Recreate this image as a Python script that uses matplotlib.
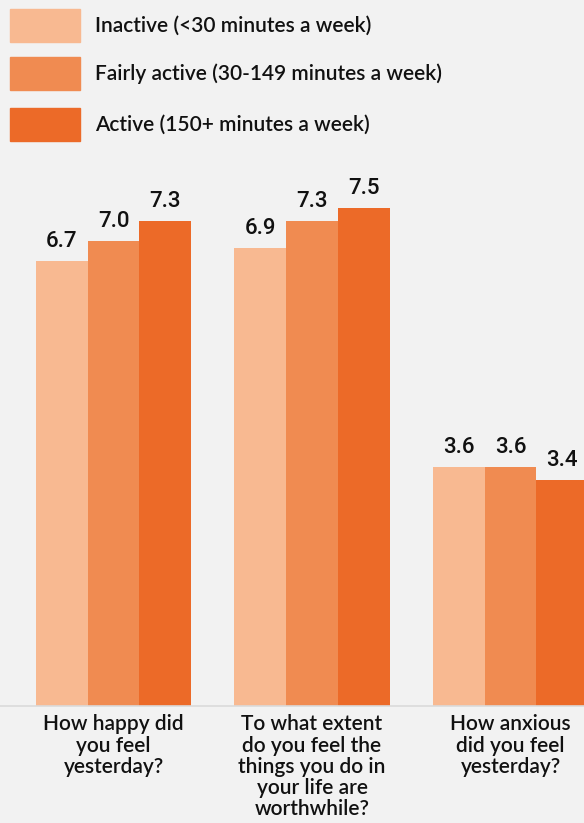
import matplotlib.pyplot as plt
from matplotlib.patches import Rectangle
import numpy as np

# data
questions = ['How happy did\nyou feel\nyesterday?',
             'To what extent\ndo you feel the\nthings you do in\nyour life are\nworthwhile?',
             'How anxious\ndid you feel\nyesterday?']
groups = ['Inactive (<30 minutes a week)',
          'Fairly active (30-149 minutes a week)',
          'Active (150+ minutes a week)']
inactive = [6.7, 6.9, 3.6]
fairly_active = [7.0, 7.3, 3.6]
active = [7.3, 7.5, 3.4]

colors = ['#f8b991', '#f08b51', '#ec6a28']
bg = '#f2f2f2'
W, H = 584, 823

fig = plt.figure(figsize=(W / 100, H / 100), dpi=100, facecolor=bg)
base_px = 706
top_px = 160
ax = fig.add_axes([0, (H - base_px) / H, 1, (base_px - top_px) / H])
ax.set_facecolor(bg)

step = 198.5  # pixels between groups
bw = 51.7 / step
x = np.arange(len(questions))
series = [inactive, fairly_active, active]
for i, (vals, c) in enumerate(zip(series, colors)):
    pos = x + (i - 1) * bw
    bars = ax.bar(pos, vals, width=bw, color=c, edgecolor='none')
    for b, v in zip(bars, vals):
        ax.annotate(f'{v:.1f}', (b.get_x() + b.get_width() / 2, v),
                    xytext=(0, 10), textcoords='offset points',
                    ha='center', va='baseline', fontsize=16,
                    family='Roboto', weight='medium', color='#111111')

ax.set_xlim(-113.5 / step, (W - 113.5) / step)
ax.set_ylim(0, (base_px - top_px) / 66.4)
for s in ['top', 'right', 'left']:
    ax.spines[s].set_visible(False)
ax.spines['bottom'].set_color('#dadada')
ax.spines['bottom'].set_linewidth(1.2)
ax.set_yticks([])
ax.set_xticks(x)
ax.set_xticklabels(questions, fontsize=15, family='Lato', weight='semibold',
                   color='#111111', linespacing=1.08)
ax.tick_params(axis='x', length=0, pad=6)

# legend drawn as squares + labels at the top left
legend_rows = [(9, 42), (57, 90), (108, 141)]
for (y0, y1), c, lab in zip(legend_rows, colors, groups):
    fig.patches.append(Rectangle((10 / W, 1 - y1 / H), 70 / W, (y1 - y0) / H,
                                 transform=fig.transFigure, color=c))
    fig.text(95 / W, 1 - (y0 + y1) / 2 / H, lab, fontsize=15, family='Lato',
             weight='semibold', color='#111111', va='center', ha='left')

fig.savefig('out.png', dpi=100, facecolor=bg)
